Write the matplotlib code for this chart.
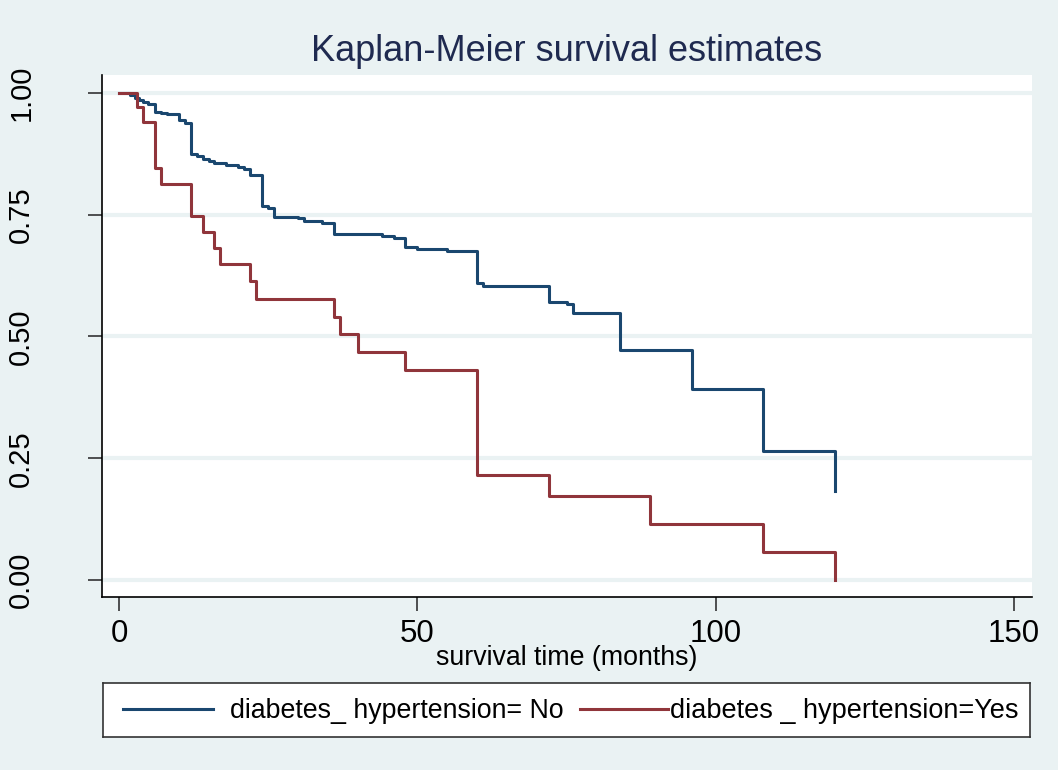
import matplotlib
matplotlib.use("Agg")
import matplotlib.pyplot as plt
from matplotlib.lines import Line2D

plt.rcParams['font.family'] = ['Liberation Sans', 'DejaVu Sans']

# Kaplan-Meier step estimates (time in months, survival probability)
time_no = [0, 1.8, 2.7, 3.4, 4.1, 4.9, 6, 7, 8, 10, 11, 12, 13, 14, 15, 16, 18,
           20, 21, 22, 24, 25, 26, 30, 31, 34, 36, 44, 46, 48, 50, 55, 60, 61,
           72, 75, 76, 84, 96, 108, 120]
surv_no = [1.0, 0.996, 0.990, 0.985, 0.982, 0.977, 0.962, 0.958, 0.956, 0.945,
           0.939, 0.875, 0.871, 0.864, 0.860, 0.856, 0.852, 0.849, 0.844, 0.832,
           0.767, 0.763, 0.746, 0.743, 0.738, 0.733, 0.711, 0.707, 0.702, 0.684,
           0.680, 0.676, 0.610, 0.604, 0.571, 0.567, 0.548, 0.472, 0.392, 0.265,
           0.183]

time_yes = [0, 3, 4, 6, 7, 12, 14, 16, 17, 22, 23, 36, 37, 40, 48, 60, 72, 89,
            108, 120]
surv_yes = [1.0, 0.971, 0.940, 0.845, 0.813, 0.748, 0.714, 0.681, 0.649, 0.613,
            0.576, 0.541, 0.505, 0.468, 0.432, 0.215, 0.173, 0.115, 0.058, 0.0]

x_ticks = [0, 50, 100, 150]
y_ticks = [0.0, 0.25, 0.50, 0.75, 1.00]
y_tick_labels = ["0.00", "0.25", "0.50", "0.75", "1.00"]

labels = ["diabetes_ hypertension= No", "diabetes _ hypertension=Yes"]
colors = ["#1A476F", "#90353B"]
bg = "#EAF2F3"

W, H = 1058, 770
fig = plt.figure(figsize=(W / 100, H / 100), dpi=100, facecolor=bg)

# plot region in pixels: x 102..1032, y 75..597
ax = fig.add_axes([102 / W, 1 - 597 / H, (1032 - 102) / W, (597 - 75) / H])
ax.set_facecolor("white")

ax.step(time_no, surv_no, where="post", color=colors[0], lw=2.2, zorder=3)
ax.step(time_yes, surv_yes, where="post", color=colors[1], lw=2.2, zorder=3)

ax.set_xlim(-2.85, 153.0)
ax.set_ylim(-0.035, 1.037)
ax.set_xticks(x_ticks)
ax.set_yticks(y_ticks)
ax.set_yticklabels(y_tick_labels, rotation=90, va="center")
ax.tick_params(axis="both", direction="out", length=10, width=1.2,
               color="#333333", colors="black")
ax.tick_params(axis="x", pad=6, labelsize=22.5)
ax.tick_params(axis="y", pad=38, labelsize=21)
ax.yaxis.grid(True, color=bg, lw=3, zorder=0)
ax.set_axisbelow(True)
for s in ["top", "right"]:
    ax.spines[s].set_visible(False)
for s in ["left", "bottom"]:
    ax.spines[s].set_color("black")
    ax.spines[s].set_linewidth(1.2)

ax.set_xlabel("survival time (months)", fontsize=19.3, labelpad=-3)
ax.set_title("Kaplan-Meier survival estimates", fontsize=26,
             color="#1F2A50", pad=10)

# legend box drawn in its own axes
lax = fig.add_axes([103 / W, 1 - 737 / H, (1030 - 103) / W, (737 - 683) / H])
lax.set_xlim(103, 1030)
lax.set_ylim(737, 683)
lax.set_facecolor("white")
lax.set_xticks([])
lax.set_yticks([])
for s in lax.spines.values():
    s.set_color("#333333")
    s.set_linewidth(1.2)
lax.add_line(Line2D([123, 213], [709, 709], color=colors[0], lw=2.2))
lax.text(230, 711, labels[0], fontsize=19.3, va="center", ha="left")
lax.add_line(Line2D([580, 668], [709, 709], color=colors[1], lw=2.2))
lax.text(670, 711, labels[1], fontsize=19.5, va="center", ha="left")

fig.savefig("out.png", dpi=100, facecolor=bg)
